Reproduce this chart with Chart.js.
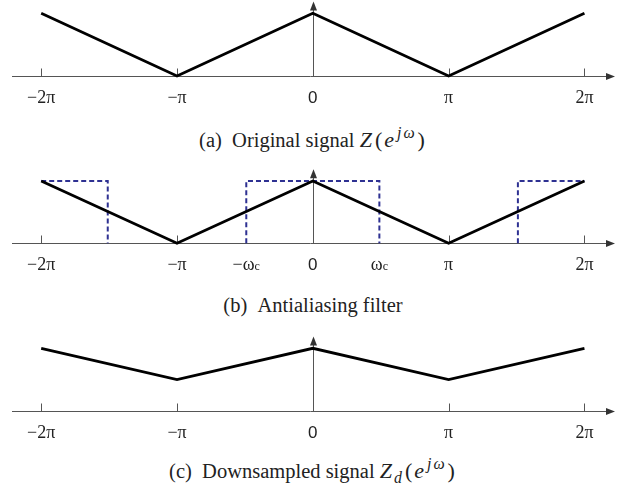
<!DOCTYPE html>
<html>
<head>
<meta charset="utf-8">
<script src="https://cdn.jsdelivr.net/npm/chart.js@4.4.1/dist/chart.umd.min.js"></script>
<style>
  html, body { margin: 0; padding: 0; background: #fff; }
  #wrap { position: relative; width: 621px; height: 490px; overflow: hidden; }
  canvas { position: absolute; left: 0; }
  .caption {
    position: absolute; left: 0; width: 626px; text-align: center;
    font-family: "Liberation Serif", "Times New Roman", serif;
    font-size: 20.5px; line-height: 24px; color: #222;
  }
  .math { font-size: 22px; letter-spacing: 1px; }
  .math i { margin-right: 1px; }
  .math .p { margin: 0 1px; }
  .caption sup { font-size: 0.72em; vertical-align: 0.6em; line-height: 0; margin-left: 1px; }
  .caption sub { font-size: 0.72em; vertical-align: -0.3em; line-height: 0; }
</style>
</head>
<body>
<div id="wrap">
  <canvas id="panelA" width="621" height="120" style="top:0px"></canvas>
  <canvas id="panelB" width="621" height="120" style="top:160px"></canvas>
  <canvas id="panelC" width="621" height="120" style="top:325px"></canvas>
  <div class="caption" style="top:128px">(a)&nbsp;&nbsp;Original signal <span class="math"><i>Z</i><span class="p">(</span><i>e</i><sup><i>j</i><i>ω</i></sup><span class="p">)</span></span></div>
  <div class="caption" style="top:293px">(b)&nbsp;&nbsp;Antialiasing filter</div>
  <div class="caption" style="top:459px">(c)&nbsp;&nbsp;Downsampled signal <span class="math"><i>Z</i><sub><i>d</i></sub><span class="p">(</span><i>e</i><sup><i>j</i><i>ω</i></sup><span class="p">)</span></span></div>
</div>
<script>
// frequencies in units of pi
const freqX = [-2, -1, 0, 1, 2];
const originalSpectrum = [1, 0, 1, 0, 1];
const downsampledSpectrum = [1, 0.5, 1, 0.5, 1];

// ideal lowpass (cutoff ~0.49 pi), null = break between the bands
const filterX = [-2, -1.51, -1.51, -1.51, -0.49, -0.49, 0.49, 0.49, 0.49, 1.51, 1.51, 2];
const filterY = [1, 1, 0, null, 0, 1, 1, 0, null, 0, 1, 1];

// tick marks on the frequency axis
const tickX = [-2, -1, 1, 2];
const tickLabelX = [-2, -1, 0, 1, 2];
const tickLabels = ["\u22122\u03c0", "\u2212\u03c0", "0", "\u03c0", "2\u03c0"];
const filterLabelX = [-2, -1, -0.49, 0, 0.49, 1, 2];
const filterLabels = ["\u22122\u03c0", "\u2212\u03c0", "\u2212\u03c9", "0", "\u03c9", "\u03c0", "2\u03c0"];
const filterLabelSubs = ["", "", "c", "", "c", "", ""];

const xMin = -2.215, xMax = 2.225;
const arrowTop = 1.19;

const toPoints = (xs, ys) => xs.map((x, i) => ({ x: x, y: ys[i] }));

const axesPlugin = {
  id: "signalAxes",
  beforeDatasetsDraw(chart) {
    const { ctx, chartArea } = chart;
    const xs = chart.scales.x, ys = chart.scales.y;
    const y0 = Math.round(ys.getPixelForValue(0)) + 0.5;
    const x0 = Math.round(xs.getPixelForValue(0)) + 0.5;
    const yTop = ys.getPixelForValue(arrowTop);
    const xRight = chartArea.right;
    ctx.save();
    ctx.strokeStyle = "#555";
    ctx.lineWidth = 1;
    ctx.beginPath();
    ctx.moveTo(chartArea.left, y0);
    ctx.lineTo(xRight - 6, y0);
    ctx.moveTo(x0, y0);
    ctx.lineTo(x0, yTop + 6);
    tickX.forEach((v) => {
      const px = Math.round(xs.getPixelForValue(v)) + 0.5;
      ctx.moveTo(px, y0);
      ctx.lineTo(px, y0 - 8);
    });
    ctx.stroke();
    // arrow heads
    ctx.fillStyle = "#333";
    ctx.beginPath();
    ctx.moveTo(xRight, y0);
    ctx.lineTo(xRight - 9, y0 - 3.5);
    ctx.lineTo(xRight - 9, y0 + 3.5);
    ctx.closePath();
    ctx.fill();
    ctx.beginPath();
    ctx.moveTo(x0, yTop);
    ctx.lineTo(x0 - 3.5, yTop + 9);
    ctx.lineTo(x0 + 3.5, yTop + 9);
    ctx.closePath();
    ctx.fill();
    ctx.restore();
  },
  afterDraw(chart, args, opts) {
    const { ctx } = chart;
    const xs = chart.scales.x, ys = chart.scales.y;
    const base = ys.getPixelForValue(0) + 27;
    ctx.save();
    ctx.fillStyle = "#222";
    ctx.textBaseline = "alphabetic";
    opts.labelX.forEach((v, i) => {
      const px = xs.getPixelForValue(v);
      const text = opts.labels[i];
      const sub = opts.subs ? opts.subs[i] : "";
      const mainFont = text === "0" ? "17px 'Liberation Sans', Arial, sans-serif"
                                    : "18px 'Liberation Serif', 'Times New Roman', serif";
      ctx.font = mainFont;
      const w1 = ctx.measureText(text).width;
      ctx.font = "12px 'Liberation Serif', serif";
      const w2 = sub ? ctx.measureText(sub).width : 0;
      const start = px - (w1 + w2) / 2;
      ctx.font = mainFont;
      ctx.textAlign = "left";
      ctx.fillText(text, start, base);
      if (sub) {
        ctx.font = "12px 'Liberation Serif', serif";
        ctx.fillText(sub, start + w1, base);
      }
    });
    ctx.restore();
  }
};

function makePanel(id, peakY, axisY, datasets, labelX, labels, subs) {
  const canvas = document.getElementById(id);
  return new Chart(canvas, {
    type: "line",
    data: { datasets: datasets },
    options: {
      responsive: false,
      animation: false,
      events: [],
      layout: { padding: { left: 12, right: 6, top: peakY, bottom: canvas.height - axisY } },
      elements: { point: { radius: 0 }, line: { tension: 0 } },
      scales: {
        x: { type: "linear", min: xMin, max: xMax, display: false },
        y: { min: 0, max: 1, display: false }
      },
      plugins: {
        legend: { display: false },
        tooltip: { enabled: false },
        signalAxes: { labelX: labelX, labels: labels, subs: subs }
      }
    },
    plugins: [axesPlugin]
  });
}

const spectrumStyle = { borderColor: "#000", borderWidth: 2.8, clip: false, fill: false };

makePanel("panelA", 13.3, 76, [
  Object.assign({ data: toPoints(freqX, originalSpectrum) }, spectrumStyle)
], tickLabelX, tickLabels);

makePanel("panelB", 21, 83.3, [
  Object.assign({ data: toPoints(freqX, originalSpectrum) }, spectrumStyle),
  { data: toPoints(filterX, filterY), borderColor: "#2e3192", borderWidth: 2,
    borderDash: [5, 3], spanGaps: false, clip: false, fill: false }
], filterLabelX, filterLabels, filterLabelSubs);

makePanel("panelC", 23.3, 85.7, [
  Object.assign({ data: toPoints(freqX, downsampledSpectrum) }, spectrumStyle)
], tickLabelX, tickLabels);
</script>
</body>
</html>
